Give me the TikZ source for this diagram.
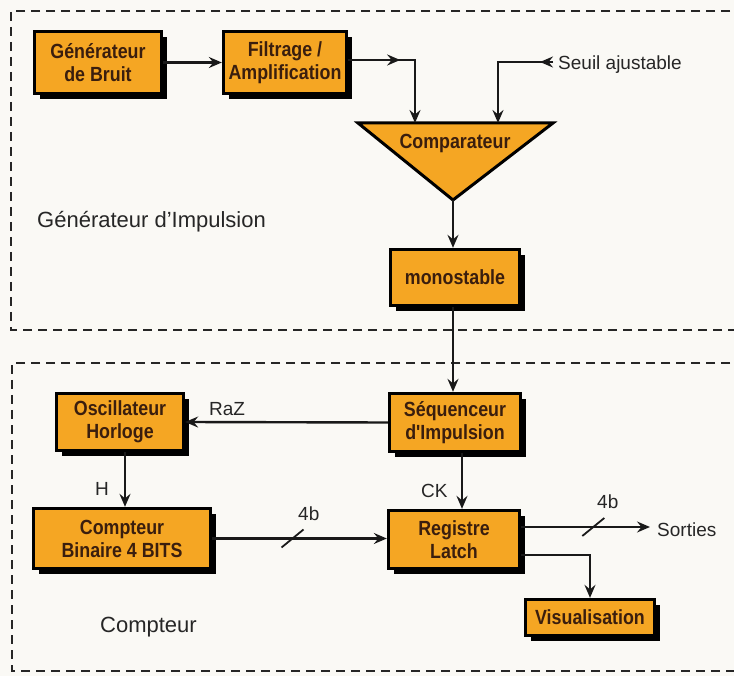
\documentclass[tikz,border=0pt]{standalone}
\usepackage{fontspec}
\setmainfont{Liberation Sans}
\newfontfamily\boxfont[FakeStretch=0.87]{Liberation Sans}
\usetikzlibrary{arrows.meta,shadows,decorations.markings}
\definecolor{boxorange}{HTML}{F5A623}
\definecolor{boxtext}{HTML}{3A1E0E}
\definecolor{labtext}{HTML}{262626}
\definecolor{paper}{HTML}{FAF9F5}
\tikzset{myarr/.tip={Stealth[length=13pt,width=11pt,inset=4.5pt]}}
\begin{document}
\begin{tikzpicture}[x=1pt,y=-1pt,
  blk/.style={draw=black, line width=2.8pt, fill=boxorange, text=boxtext,
    font=\boxfont\bfseries\fontsize{20.5}{23}\selectfont, align=center, inner sep=0pt,
    drop shadow={shadow xshift=5.5pt, shadow yshift=-5.5pt, fill=black, opacity=1}},
  lab/.style={text=labtext, font=\fontsize{22}{26}\selectfont, inner sep=0pt, anchor=base west},
  slab/.style={text=labtext, font=\fontsize{19}{23}\selectfont, inner sep=0pt, anchor=base west},
  wire/.style={line width=2.4pt, draw=black!90},
  arr/.style={wire, -myarr},
  frame/.style={line width=2.4pt, dash pattern=on 9pt off 6pt, draw=black!85},
  slashmark/.style={line width=1.8pt, draw=black!90},
]
\useasboundingbox (0,0) rectangle (734,676);
\fill[paper] (0,0) rectangle (734,676);
\clip (0,0) rectangle (734,676);

% dashed frames
\draw[frame] (760,11) -- (11,11) -- (11,330) -- (760,330);
\draw[frame] (760,363) -- (12,363) -- (12,671) -- (760,671);

% blocks
\node[blk, minimum width=127.5pt, minimum height=62.5pt] (gen)  at (98,62.5)   {Générateur\\de Bruit};
\node[blk, minimum width=123.5pt, minimum height=62.5pt] (filt) at (285,62.5)  {Filtrage /\\Amplification};
\node[blk, minimum width=129.5pt, minimum height=56.5pt] (mono) at (455,277.5) {monostable};
\node[blk, minimum width=131.5pt, minimum height=58.5pt] (seq)  at (455,422.5) {Séquenceur\\d'Impulsion};
\node[blk, minimum width=127.5pt, minimum height=57.5pt] (osc)  at (120,422)   {Oscillateur\\Horloge};
\node[blk, minimum width=177.5pt, minimum height=60.5pt] (cpt)  at (122,538.5) {Compteur\\Binaire 4 BITS};
\node[blk, minimum width=131.5pt, minimum height=58.5pt] (reg)  at (454,539.5) {Registre\\Latch};
\node[blk, minimum width=129.5pt, minimum height=36.5pt] (vis)  at (590,617.5) {Visualisation};

% comparator triangle
\coordinate (cTL) at (358,123);
\coordinate (cTR) at (553,123);
\coordinate (cAp) at (453,200);
\coordinate (cin1) at (415,123);
\coordinate (cin2) at (498,123);
\draw[line width=3pt, line join=miter, fill=boxorange] (cTL) -- (cTR) -- (cAp) -- cycle;
\node[text=boxtext, font=\boxfont\bfseries\fontsize{20.5}{23}\selectfont, inner sep=0pt] (comp) at (455,143) {Comparateur};

% texts
\node[lab] (lgen) at (37,228) {Générateur d'Impulsion};
\node[lab] (lcpt) at (100,632) {Compteur};
\node[slab] (lseuil) at (558,70) {Seuil ajustable};
\node[slab] (lsort) at (657,536) {Sorties};
\node[slab] (lraz) at (209,415) {RaZ};
\node[slab] (lh) at (95,495) {H};
\node[slab] (lck) at (421,497) {CK};
\node[slab] (l4a) at (298,520) {4b};
\node[slab] (l4b) at (597,508) {4b};

% connectors
\draw[arr] (gen) -- (filt);
\coordinate (fcorner) at (415,60);
\draw[arr, postaction={decorate}, decoration={markings, mark=at position 52pt with {\arrow{myarr}}}]
  ([yshift=2.5pt]filt.east) -- (fcorner) -- (cin1);
\coordinate (seuil) at (553,62);
\coordinate (scorner) at (498,62);
\draw[arr, postaction={decorate}, decoration={markings, mark=at position 13pt with {\arrow{myarr}}}]
  (seuil) -- (scorner) -- (cin2);
\draw[arr] (cAp) -- (cAp |- mono.north);
\draw[arr] (cAp |- mono.south) -- (cAp |- seq.north);
\draw[arr] (seq.west) -- (osc.east);
\draw[arr] ([xshift=5pt]osc.south) -- ([xshift=5pt]osc.south |- cpt.north);
\draw[arr] ([xshift=7pt]seq.south) -- ([xshift=7pt]seq.south |- reg.north);
\draw[arr] (cpt.east) -- (cpt.east -| reg.west) coordinate[pos=0.46] (m1);
\draw[slashmark] ([shift={(-11,9)}]m1) -- ([shift={(11,-9)}]m1);
\coordinate (sortie) at (650,527);
\draw[arr] ([yshift=12.5pt]reg.east) -- (sortie) coordinate[pos=0.56] (m2);
\draw[slashmark] ([shift={(-11,9)}]m2) -- ([shift={(11,-9)}]m2);
\draw[arr] ([yshift=-15.5pt]reg.east) -| (vis.north);
\end{tikzpicture}
\end{document}
